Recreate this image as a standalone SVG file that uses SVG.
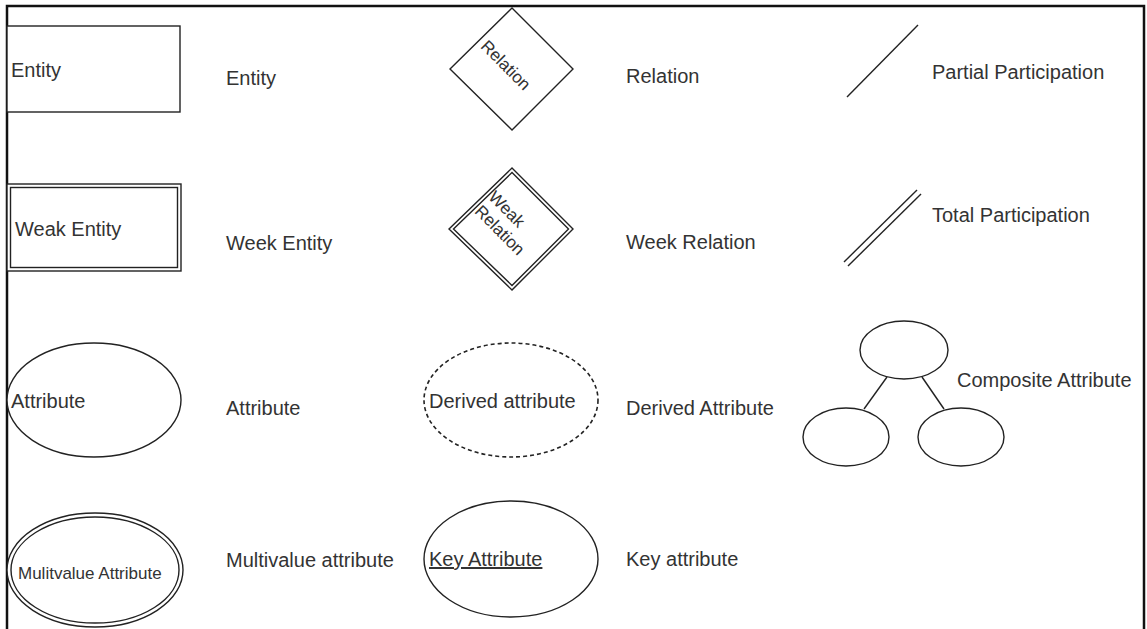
<svg xmlns="http://www.w3.org/2000/svg" width="1147" height="629" viewBox="0 0 1147 629">
<style>
.s{fill:#fff;stroke:#222;stroke-width:1.4}
.d{fill:#fff;stroke:#222;stroke-width:1.6;stroke-dasharray:4 3}
.ln{stroke:#222;stroke-width:1.4;fill:none}
.t{font-family:"Liberation Sans",Arial,sans-serif;font-size:20px;fill:#333}
.sm{font-size:17px}
.r{font-size:17px}
</style>
<rect width="1147" height="629" fill="#fff"/>
<path d="M7,631 V6 H1144 V631" fill="none" stroke="#111" stroke-width="2.5"/>
<g id="entity">
<rect class="s" x="7" y="26" width="173" height="86"/>
<text class="t" x="11" y="77">Entity</text>
</g>
<g id="entity-label"><text class="t" x="226" y="85">Entity</text></g>
<g id="relation">
<polygon class="s" points="512,8 573,69 512,130 450,69"/>
<text class="t r" x="506" y="71" text-anchor="middle" transform="rotate(45 506 65)">Relation</text>
</g>
<g id="relation-label"><text class="t" x="626" y="83">Relation</text></g>
<g id="partial">
<line class="ln" x1="847" y1="97" x2="918" y2="25"/>
</g>
<g id="partial-label"><text class="t" x="932" y="79">Partial Participation</text></g>
<g id="weak-entity">
<rect class="s" x="7" y="184" width="174" height="87"/>
<rect class="s" x="10.5" y="187.5" width="167" height="80"/>
<text class="t" x="15" y="236">Weak Entity</text>
</g>
<g id="weak-entity-label"><text class="t" x="226" y="250">Week Entity</text></g>
<g id="weak-relation">
<polygon class="s" points="512,168 573,229 512,290 449,229"/>
<polygon class="s" points="512,172.5 568.5,229 512,285.5 453.5,229"/>
<text class="t r" x="507" y="215" text-anchor="middle" transform="rotate(45 507 209)">Weak</text>
<text class="t r" x="500" y="236" text-anchor="middle" transform="rotate(45 500 230)">Relation</text>
</g>
<g id="weak-relation-label"><text class="t" x="626" y="249">Week Relation</text></g>
<g id="total">
<line class="ln" x1="844" y1="262" x2="917" y2="190"/>
<line class="ln" x1="848" y1="266" x2="921" y2="194"/>
</g>
<g id="total-label"><text class="t" x="932" y="222">Total Participation</text></g>
<g id="attribute">
<ellipse class="s" cx="94" cy="400" rx="87" ry="57"/>
<text class="t" x="11" y="408">Attribute</text>
</g>
<g id="attribute-label"><text class="t" x="226" y="415">Attribute</text></g>
<g id="derived">
<ellipse class="d" cx="511" cy="400" rx="87" ry="57"/>
<text class="t" x="429" y="408">Derived attribute</text>
</g>
<g id="derived-label"><text class="t" x="626" y="415">Derived Attribute</text></g>
<g id="composite">
<ellipse class="s" cx="904" cy="350" rx="44" ry="29"/>
<ellipse class="s" cx="846" cy="437" rx="43" ry="29"/>
<ellipse class="s" cx="961" cy="437" rx="43" ry="29"/>
</g>
<g id="connectors">
<line class="ln" x1="887" y1="377" x2="864" y2="409"/>
<line class="ln" x1="922" y1="377" x2="944" y2="409"/>
</g>
<g id="composite-label"><text class="t" x="957" y="387">Composite Attribute</text></g>
<g id="multivalue">
<ellipse class="s" cx="95" cy="570" rx="88" ry="57"/>
<ellipse class="s" cx="95" cy="570" rx="84" ry="53"/>
<text class="t sm" x="18" y="579">Mulitvalue Attribute</text>
</g>
<g id="multivalue-label"><text class="t" x="226" y="567">Multivalue attribute</text></g>
<g id="key">
<ellipse class="s" cx="511" cy="559" rx="87" ry="58"/>
<text class="t" x="429" y="566" text-decoration="underline">Key Attribute</text>
</g>
<g id="key-label"><text class="t" x="626" y="566">Key attribute</text></g>
</svg>
